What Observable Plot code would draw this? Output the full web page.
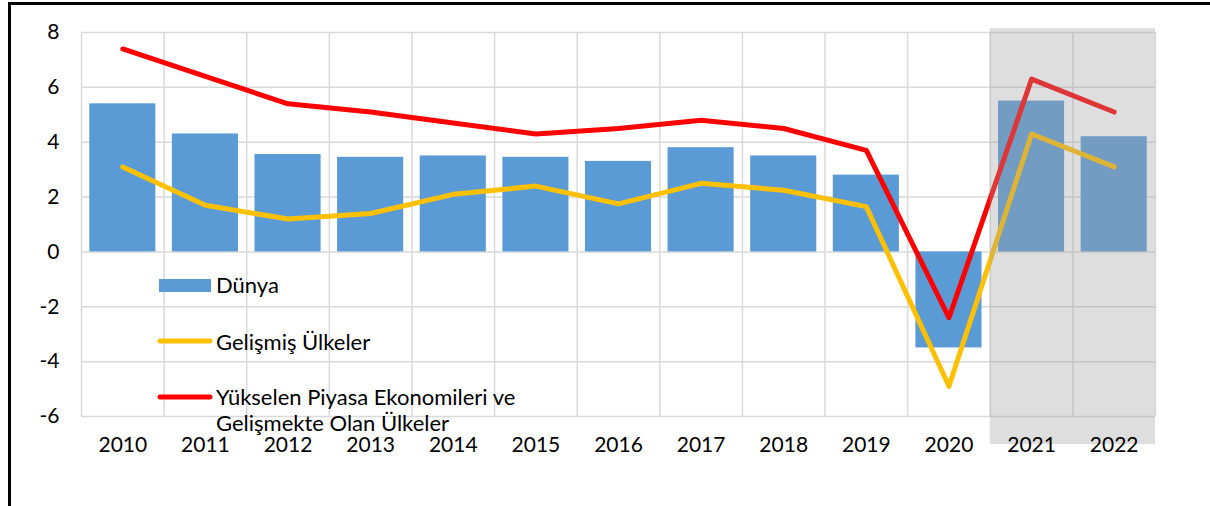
<!DOCTYPE html>
<html><head><meta charset="utf-8">
<script src="https://cdn.jsdelivr.net/npm/d3@7"></script>
<script src="https://cdn.jsdelivr.net/npm/@observablehq/plot@0.6"></script>
<style>
body{margin:0;background:#fff;font-family:Lato,"Open Sans",sans-serif;}
#wrap{position:relative;width:1210px;height:506px;overflow:hidden;}
#chart{position:absolute;left:0;top:0;}
#frame{position:absolute;left:8px;top:2px;width:1300px;height:600px;border-top:3px solid #000;border-left:3px solid #000;pointer-events:none;}
.leg{position:absolute;font-size:22px;color:#000;line-height:26px;white-space:nowrap;}
.sw{position:absolute;}
</style></head>
<body><div id="wrap"><div id="chart"></div><div id="legend"></div><div id="frame"></div></div>
<script>
const years = [2010,2011,2012,2013,2014,2015,2016,2017,2018,2019,2020,2021,2022];
const dunya = [5.4,4.3,3.55,3.45,3.5,3.45,3.3,3.8,3.5,2.8,-3.5,5.5,4.2];
const gelismis = [3.1,1.7,1.2,1.4,2.1,2.4,1.75,2.5,2.25,1.65,-4.9,4.3,3.1];
const yukselen = [7.4,6.4,5.4,5.1,4.7,4.3,4.5,4.8,4.5,3.7,-2.4,6.3,5.1];
const yTicks = [-6,-4,-2,0,2,4,6,8];
const forecastYears = [2021,2022];
const seriesNames = ["Dünya","Gelişmiş Ülkeler","Yükselen Piyasa Ekonomileri ve\nGelişmekte Olan Ülkeler"];
const colors = ["#5B9BD5","#FFC000","#FF0000"];

const rows = years.map((y,i)=>({year:y, d:dunya[i], g:gelismis[i], r:yukselen[i]}));
const bounds = d3.range(years[0]-0.5, years[years.length-1]+1, 1);
const half = 0.4;
const shade = [{x1: forecastYears[0]-0.5, x2: forecastYears[forecastYears.length-1]+0.5, y1: -7.02, y2: 8.14}];

const chart = Plot.plot({
  width: 1210, height: 506,
  marginLeft: 81, marginRight: 55, marginTop: 32, marginBottom: 90,
  style: {fontFamily: "Lato, 'Open Sans', sans-serif", fontSize: "21px", color: "#000", background: "transparent", overflow: "visible"},
  x: {domain: [years[0]-0.5, years[years.length-1]+0.5], axis: null},
  y: {domain: [-6, 8], axis: null},
  marks: [
    Plot.ruleY(yTicks, {stroke: "#D9D9D9", strokeWidth: 1.5}),
    Plot.ruleX(bounds, {y1: -6, y2: 8, stroke: "#D9D9D9", strokeWidth: 1.5}),
    Plot.rectY(rows, {x1: d=>d.year-half, x2: d=>d.year+half, y1: 0, y2: "d", fill: colors[0]}),
    Plot.line(rows, {x: "year", y: "g", stroke: colors[1], strokeWidth: 5, strokeLinecap: "round", strokeLinejoin: "round"}),
    Plot.line(rows, {x: "year", y: "r", stroke: colors[2], strokeWidth: 5, strokeLinecap: "round", strokeLinejoin: "round"}),
    Plot.rect(shade, {x1: "x1", x2: "x2", y1: "y1", y2: "y2", fill: "rgb(158,158,158)", fillOpacity: 0.34, clip: false}),
    Plot.text(years, {x: d=>d, y: -6, dy: 29, text: d=>String(d), fontSize: 21, fill: "#000"}),
    Plot.text(yTicks, {y: d=>d, x: years[0]-0.5, dx: -22, textAnchor: "end", text: d=>String(d), fontSize: 21, fill: "#000"})
  ]
});
document.getElementById("chart").appendChild(chart);

// legend inside plot area
const leg = document.getElementById("legend");
const items = [
  {x:159, y:279, type:"rect", top:272},
  {x:158, y:341, type:"line", top:329},
  {x:158, y:397, type:"line", top:384}
];
items.forEach((it,i)=>{
  const sw = document.createElementNS("http://www.w3.org/2000/svg","svg");
  sw.setAttribute("class","sw");
  sw.setAttribute("width",60); sw.setAttribute("height",20);
  sw.style.left = (it.x-2)+"px"; sw.style.top = (it.y-6)+"px";
  if(it.type==="rect"){
    sw.innerHTML = `<rect x="2" y="6" width="52" height="13" fill="${colors[i]}"/>`;
  } else {
    sw.innerHTML = `<line x1="4" y1="6" x2="54" y2="6" stroke="${colors[i]}" stroke-width="5" stroke-linecap="round"/>`;
  }
  leg.appendChild(sw);
  const t = document.createElement("div");
  t.className = "leg";
  t.style.left = "216px"; t.style.top = it.top+"px";
  t.innerHTML = seriesNames[i].split("\n").join("<br>");
  leg.appendChild(t);
});
</script></body></html>
